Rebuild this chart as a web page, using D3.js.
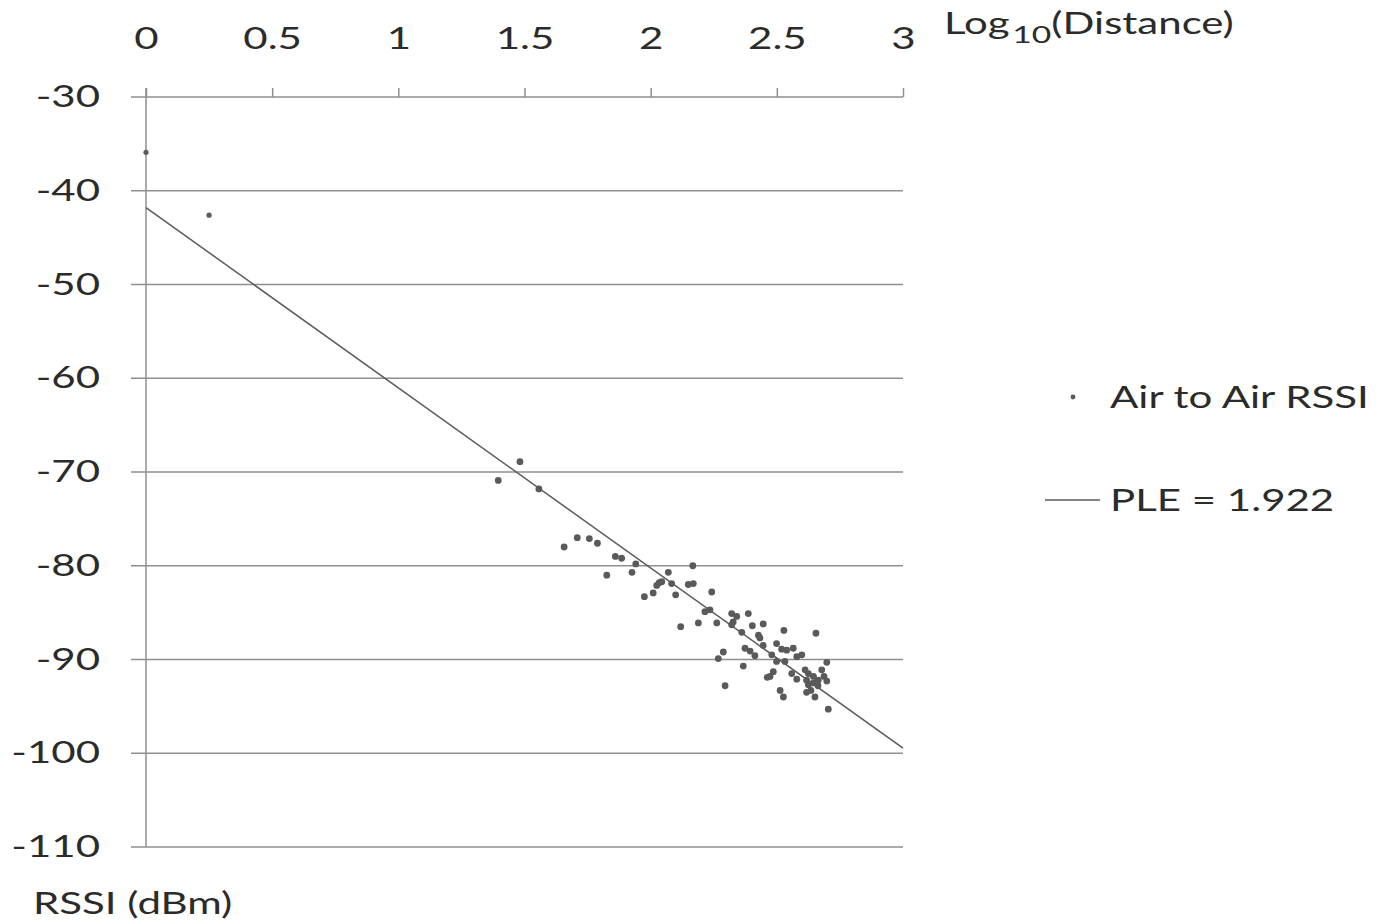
<!DOCTYPE html>
<html>
<head>
<meta charset="utf-8">
<script src="https://cdn.jsdelivr.net/npm/d3@7"></script>
<style>
  html, body { margin: 0; padding: 0; background: #ffffff; }
  svg { display: block; }
  text { font-family: Lato, "Open Sans", sans-serif; fill: #2b2b2b; }
</style>
</head>
<body>
<svg id="chart" width="1379" height="923"></svg>
<script>
// ---- data ----
const logDistance = [0.00, 0.25, 1.396, 1.482, 1.557, 1.657, 1.709, 1.757, 1.789, 1.860,
  1.885, 1.941, 1.826, 1.926, 2.070, 2.024, 2.034, 2.044, 2.010, 1.975,
  2.083, 2.099, 2.149, 2.169, 2.167, 2.119, 2.242, 2.215, 2.235, 2.189,
  2.262, 2.321, 2.341, 2.387, 2.327, 2.321, 2.361, 2.403, 2.446, 2.427,
  2.433, 2.528, 2.655, 2.446, 2.499, 2.519, 2.539, 2.565, 2.374, 2.394,
  2.288, 2.268, 2.413, 2.480, 2.499, 2.579, 2.599, 2.532, 2.367, 2.486,
  2.473, 2.462, 2.559, 2.698, 2.678, 2.612, 2.625, 2.645, 2.664, 2.698,
  2.579, 2.618, 2.645, 2.663, 2.625, 2.295, 2.513, 2.526, 2.618, 2.651,
  2.704, 2.687, 2.635];
const rssi = [-35.9, -42.6, -70.9, -68.9, -71.8, -78.0, -77.0, -77.1, -77.6, -79.0,
  -79.2, -79.8, -81.0, -80.7, -80.7, -82.1, -81.8, -81.7, -82.9, -83.3,
  -81.9, -83.1, -82.0, -81.9, -80.0, -86.5, -82.8, -84.9, -84.7, -86.1,
  -86.1, -85.1, -85.4, -85.1, -86.0, -86.3, -87.1, -86.4, -86.2, -87.4,
  -87.7, -86.9, -87.2, -88.5, -88.3, -88.9, -89.0, -88.8, -88.8, -89.1,
  -89.2, -89.9, -89.6, -89.5, -90.2, -89.7, -89.5, -90.2, -90.7, -91.3,
  -91.8, -91.9, -91.5, -90.3, -91.1, -91.1, -91.5, -91.8, -92.2, -92.3,
  -92.1, -92.2, -92.5, -92.8, -92.7, -92.8, -93.3, -94.0, -93.5, -94.0,
  -95.3, -91.8, -93.3];
const xTicks = [0, 0.5, 1, 1.5, 2, 2.5, 3];
const yTicks = [-30, -40, -50, -60, -70, -80, -90, -100, -110];
const fitIntercept = -41.8;   // RSSI at log10(d) = 0
const ple = 1.922;            // path loss exponent
const fitRange = [0, 3];
const seriesName = "Air to Air RSSI";
const fitName = "PLE = 1.922";

// ---- chart ----
const svg = d3.select("#chart");
const x = d3.scaleLinear().domain([0, 3]).range([146, 903]);
const y = d3.scaleLinear().domain([-110, -30]).range([847, 97]);
const gridColor = "#8f8f8f";
const fontSize = 30;
const sx = 1.4; // horizontal stretch of the text in the original picture

// scaled text helper: anchored at (ax, ay)
function sText(ax, ay, str, anchor = "start", dy = "0") {
  const g = svg.append("g").attr("transform", `translate(${ax},${ay}) scale(${sx},1)`);
  return g.append("text").attr("text-anchor", anchor).attr("dy", dy)
    .attr("font-size", fontSize).text(str);
}

// horizontal gridlines (extending left past the axis as tick marks)
svg.append("g").selectAll("line").data(yTicks).join("line")
  .attr("x1", 131).attr("x2", x(3))
  .attr("y1", d => y(d)).attr("y2", d => y(d))
  .attr("stroke", gridColor).attr("stroke-width", 1.5);

// y axis line
svg.append("line")
  .attr("x1", x(0)).attr("x2", x(0))
  .attr("y1", y(-30) - 9).attr("y2", y(-110))
  .attr("stroke", gridColor).attr("stroke-width", 1.5);

// x axis on top
const xAxis = d3.axisTop(x).tickValues(xTicks).tickSize(9).tickPadding(39)
  .tickFormat(d => String(d));
const gx = svg.append("g").attr("transform", `translate(0,${y(-30)})`).call(xAxis);
gx.select(".domain").remove();
gx.selectAll(".tick line").attr("stroke", gridColor).attr("stroke-width", 1.5);
gx.selectAll(".tick text").attr("font-size", fontSize).attr("fill", "#2b2b2b")
  .attr("font-family", "Lato, 'Open Sans', sans-serif")
  .attr("transform", `scale(${sx},1)`);

// y axis labels
const yPad = 46;
const yAxis = d3.axisLeft(y).tickValues(yTicks).tickSize(0).tickPadding(yPad)
  .tickFormat(d => String(d));
const gy = svg.append("g").attr("transform", `translate(${x(0)},0)`).call(yAxis);
gy.select(".domain").remove();
gy.selectAll(".tick text").attr("font-size", fontSize).attr("fill", "#2b2b2b")
  .attr("font-family", "Lato, 'Open Sans', sans-serif")
  .attr("x", -yPad / sx)
  .attr("transform", `scale(${sx},1)`);

// regression line
svg.append("line")
  .attr("x1", x(fitRange[0])).attr("y1", y(fitIntercept - 10 * ple * fitRange[0]))
  .attr("x2", x(fitRange[1])).attr("y2", y(fitIntercept - 10 * ple * fitRange[1]))
  .attr("stroke", "#5a5a5a").attr("stroke-width", 1.5);

// points
const pts = logDistance.map((d, i) => ({ x: d, y: rssi[i] }));
svg.append("g").selectAll("circle").data(pts).join("circle")
  .attr("cx", d => x(d.x)).attr("cy", d => y(d.y))
  .attr("r", (d, i) => i < 2 ? 2.6 : 3.4)
  .attr("fill", "#5a5a5a");

// axis titles
const xt = sText(944, 34, "");
xt.append("tspan").text("Log");
xt.append("tspan").attr("dx", 2).attr("dy", 9).attr("font-size", 24).text("10");
xt.append("tspan").attr("dy", -9).text("(Distance)");

sText(33, 914, "RSSI (dBm)");

// legend
svg.append("circle").attr("cx", 1073).attr("cy", 397).attr("r", 2.4).attr("fill", "#5a5a5a");
sText(1110, 397, seriesName, "start", "0.35em");
svg.append("line").attr("x1", 1045).attr("x2", 1100).attr("y1", 500).attr("y2", 500)
  .attr("stroke", "#5a5a5a").attr("stroke-width", 1.5);
sText(1110, 500, fitName, "start", "0.35em");
</script>
</body>
</html>
